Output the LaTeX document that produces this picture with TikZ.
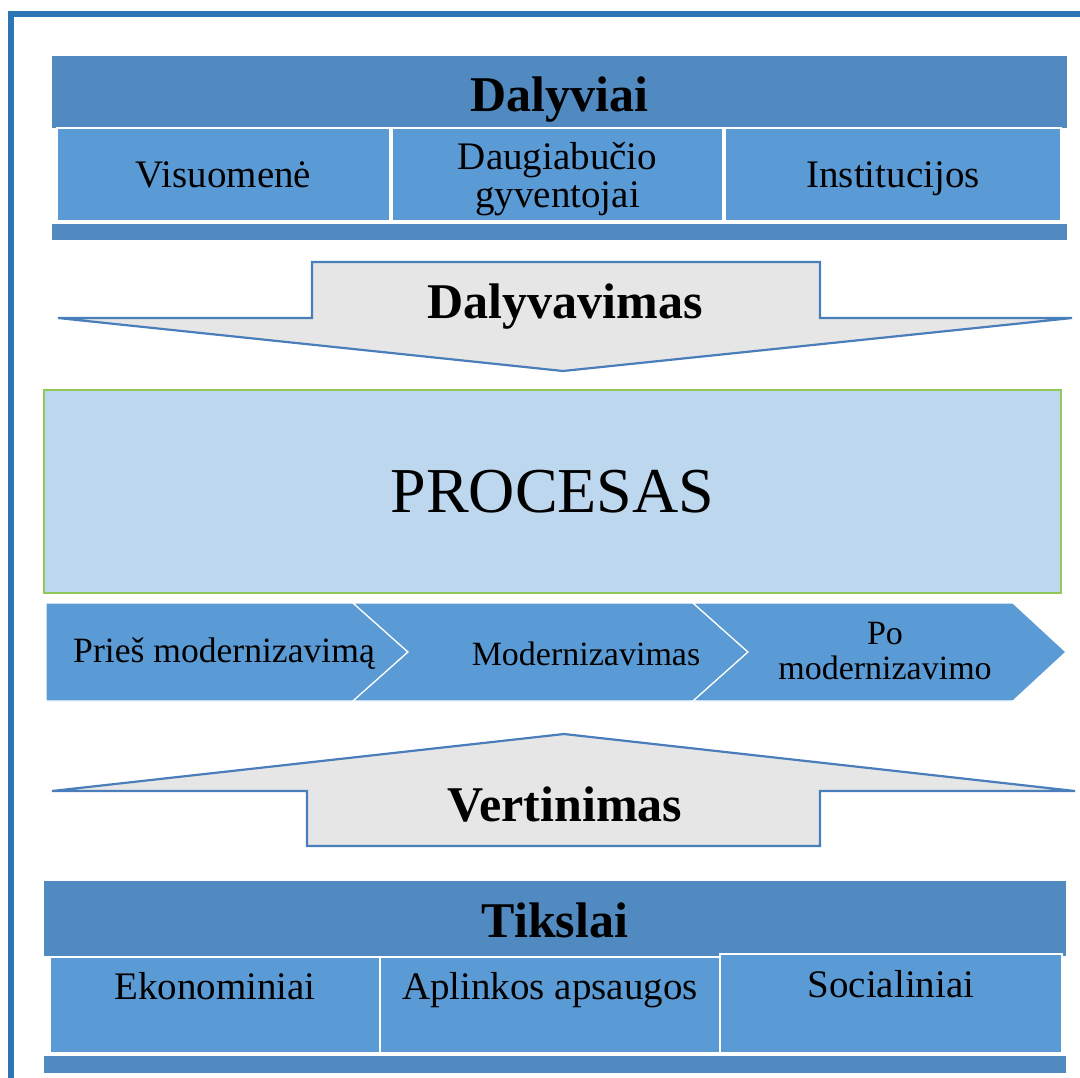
\documentclass[tikz,border=0pt]{standalone}
\usepackage{fontspec}
\setmainfont{Liberation Serif}
\usepackage{xcolor}
\usepackage{tikz}
\usetikzlibrary{positioning}

\definecolor{framebl}{RGB}{46,117,182}
\definecolor{hdrbl}{RGB}{80,138,192}
\definecolor{cellbl}{RGB}{91,155,213}
\definecolor{procbl}{RGB}{189,215,238}
\definecolor{procgr}{RGB}{146,200,90}
\definecolor{arrowgr}{RGB}{230,230,230}
\definecolor{arrowln}{RGB}{74,126,187}

\begin{document}
\begin{tikzpicture}[x=0.5pt, y=-0.5pt,
    header/.style={rectangle, fill=hdrbl, inner sep=0pt, minimum height=36pt, text height=19pt, text depth=0pt, font=\fontsize{25}{30}\selectfont\bfseries},
    cell/.style={rectangle, fill=cellbl, draw=white, line width=0.6pt, inner sep=0pt, minimum height=46.5pt, align=center, font=\fontsize{19.5}{19}\selectfont},
    onel/.style={text height=13pt, text depth=0pt},
    lowcell/.style={text height=13pt, text depth=18.6pt, minimum height=48pt},
    footbar/.style={rectangle, fill=hdrbl, inner sep=0pt, minimum height=8pt},
    bigarrow/.style={draw=arrowln, fill=arrowgr, line width=1.1pt, line join=miter},
    arrowtext/.style={inner sep=0pt, text height=19pt, text depth=0pt, font=\fontsize{25}{30}\selectfont\bfseries},
    chevron/.style={fill=cellbl, draw=white, line width=0.6pt},
    chevtext/.style={inner sep=0pt, align=center, font=\fontsize{17}{17.5}\selectfont},
    chevone/.style={text height=11.3pt, text depth=0pt}]

    \useasboundingbox (0,0) rectangle (1080,1077);
    \clip (0,0) rectangle (1080,1077);
    \draw[framebl, line width=3.3pt] (11,1120) |- (1120,14);

    \node[header, minimum width=507.5pt] (dalyviai) at (559.5,92) {Dalyviai};
    \node[cell, onel, minimum width=166.5pt] (visuomene) at (223.5,174.5) {Visuomenė};
    \node[cell, minimum width=165.5pt] (gyventojai) at (557.5,174.5) {\rule{0pt}{18pt}Daugiabučio\\gyventojai};
    \node[cell, onel, minimum width=168pt] (institucijos) at (893,174.5) {Institucijos};
    \node[footbar, minimum width=507.5pt, below=1pt of gyventojai.south, xshift=1pt] (virsbar) {};

    \draw[bigarrow] (312,262) -- (820,262) -- (820,318) -- (1072,318) -- (563,371) -- (58,318) -- (312,318) -- cycle;
    \node[arrowtext] (dalyvavimas) at (565,299) {Dalyvavimas};

    \node[rectangle, fill=procbl, draw=procgr, line width=0.8pt, minimum width=508.5pt, minimum height=101.5pt, font=\fontsize{32}{36}\selectfont] (procesas) at (552.5,491.5) {PROCESAS};

    \draw[chevron] (46,603) -- (353,603) -- (408,652) -- (353,701) -- (46,701) -- cycle;
    \draw[chevron] (353,603) -- (693,603) -- (748,652) -- (693,701) -- (353,701) -- (408,652) -- cycle;
    \draw[chevron] (693,603) -- (1013,603) -- (1066,652) -- (1013,701) -- (693,701) -- (748,652) -- cycle;
    \node[chevtext, chevone, font=\fontsize{17.8}{18}\selectfont] (pries) at (224,651) {Prieš modernizavimą};
    \node[chevtext, chevone] (moderniz) at (586,654) {Modernizavimas};
    \node[chevtext] (po) at (885,651) {Po\\modernizavimo};

    \draw[bigarrow] (564,734) -- (1075,791) -- (820,791) -- (820,846) -- (307,846) -- (307,791) -- (52,791) -- cycle;
    \node[arrowtext] (vertinimas) at (565,802) {Vertinimas};

    \node[header, minimum width=511pt, minimum height=37.5pt] (tikslai) at (555,918.5) {Tikslai};
    \node[cell, lowcell, minimum width=165pt] (ekonominiai) at (215,1005) {Ekonominiai};
    \node[cell, lowcell, minimum width=170pt] (aplinkos) at (550,1005) {Aplinkos apsaugos};
    \node[cell, lowcell, minimum width=171pt, minimum height=49.5pt] (socialiniai) at (891,1003.5) {Socialiniai};
    \node[footbar, minimum width=511pt, minimum height=8.5pt] (apacbar) at (555,1064.5) {};
\end{tikzpicture}
\end{document}
